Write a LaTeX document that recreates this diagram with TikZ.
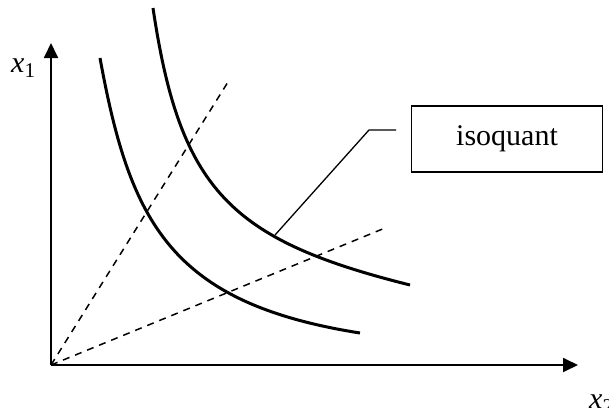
\documentclass[tikz,border=0pt]{standalone}
\usepackage{fontspec}
\setmainfont{Liberation Serif}
\usetikzlibrary{arrows.meta,positioning}

\begin{document}
\begin{tikzpicture}[x=1pt,y=-1pt,font=\fontsize{30}{34}\selectfont,
				axe/.style={line width=1.8pt,-{Triangle[length=15pt,width=14pt]}},
				ray/.style={line width=1.5pt,dash pattern=on 7pt off 6pt},
				iso/.style={line width=3pt},
				lbl/.style={draw,line width=1.3pt,minimum width=191pt,minimum height=66pt}]
				\useasboundingbox (0,0) rectangle (609,407);
				\coordinate (o) at (51,365);
				\coordinate (ytip) at (51,43);
				\coordinate (xtip) at (578,365);
				\coordinate (r1) at (228,82);
				\coordinate (r2) at (385,228);
				\coordinate (k) at (396,130);
				\coordinate (p) at (275,235);
				\coordinate (a0) at (100,58);
				\coordinate (a1) at (360,333);
				\coordinate (b0) at (153,8);
				\coordinate (b1) at (410,285);
				\node[anchor=west,inner sep=0pt] (x1) at (11,68) {\textit{x}\textsubscript{1}};
				\node[anchor=west,inner sep=0pt] (x2) at (589,404) {\textit{x}\textsubscript{2}};
				\node[lbl] (box) at (507,139) {isoquant};
				\draw[axe] (o)--(ytip);
				\draw[axe] (o)--(xtip);
				\draw[ray] (o)--(r1);
				\draw[ray] (o)--(r2);
				\draw[iso] (a0) .. controls (130,222) and (170,303) .. (a1);
				\draw[iso] (b0) .. controls (180,190) and (230,240) .. (b1);
				\draw[line width=1.3pt] (k)--(369,130)--(p);
			\end{tikzpicture}
\end{document}
